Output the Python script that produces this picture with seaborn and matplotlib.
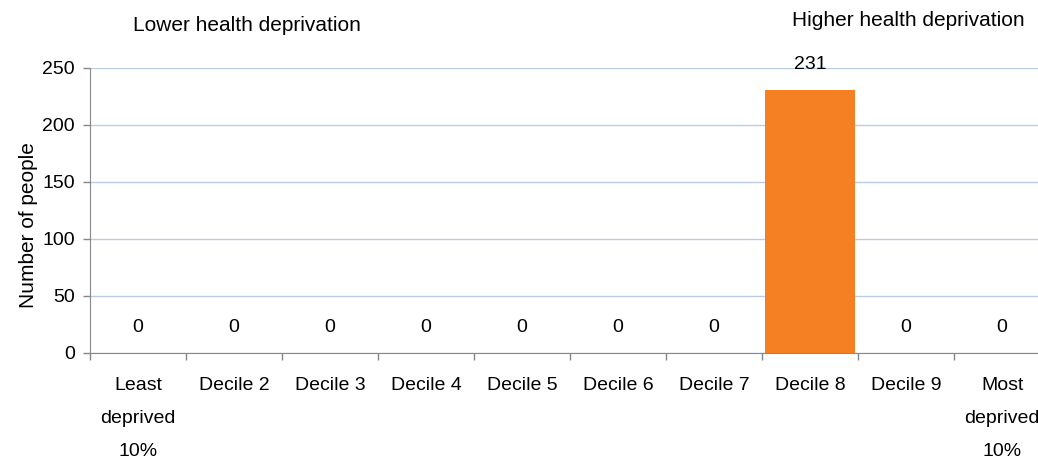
import numpy as np
import pandas as pd
import seaborn as sns
import matplotlib.pyplot as plt

categories = ["Least\ndeprived\n10%", "Decile 2", "Decile 3", "Decile 4", "Decile 5",
              "Decile 6", "Decile 7", "Decile 8", "Decile 9", "Most\ndeprived\n10%"]
people = [0, 0, 0, 0, 0, 0, 0, 231, 0, 0]

df = pd.DataFrame({"decile": categories, "people": people})

sns.set_style("white")
plt.rcParams['font.family'] = ['Liberation Sans', 'DejaVu Sans']
plt.rcParams['text.color'] = 'black'
plt.rcParams['xtick.color'] = '#888888'
plt.rcParams['ytick.color'] = '#888888'
plt.rcParams['xtick.labelcolor'] = 'black'
plt.rcParams['ytick.labelcolor'] = 'black'
plt.rcParams['axes.labelcolor'] = 'black'

fig = plt.figure(figsize=(10.38, 4.59), dpi=100)
ax = fig.add_axes([0.0867, 0.231, 0.925, 0.621])

sns.barplot(data=df, x="decile", y="people", color="#F58023", width=0.94,
            saturation=1, linewidth=0, ax=ax, zorder=3)

ax.set_ylim(0, 250)
ax.set_yticks([0, 50, 100, 150, 200, 250])
ax.grid(axis="y", color="#B9CDE5", linewidth=1, zorder=0)
ax.set_axisbelow(True)
ax.set_xlim(-0.5, 9.5)

# ticks between bars, labels at bar centres
ax.set_xticks(np.arange(-0.5, 10, 1))
ax.set_xticklabels([])
ax.set_xticks(range(len(categories)), minor=True)
ax.set_xticklabels(categories, minor=True, fontsize=14, linespacing=2.25, va="top")
ax.tick_params(axis="x", which="major", bottom=True, length=5, width=1, direction="out")
ax.tick_params(axis="x", which="minor", bottom=True, length=0, pad=17)
ax.tick_params(axis="y", left=True, length=5, width=1, labelsize=14, pad=6)

for s in ["top", "right"]:
    ax.spines[s].set_visible(False)
for s in ["left", "bottom"]:
    ax.spines[s].set_color("#888888")

ax.set_xlabel("")
ax.set_ylabel("Number of people", fontsize=15)
ax.yaxis.set_label_coords(-0.054, 0.45)

for i, v in enumerate(people):
    ax.annotate(str(v), (i, v), xytext=(0, 18), textcoords="offset points",
                ha="center", va="center", fontsize=14)

fig.text(0.128, 0.945, "Lower health deprivation", fontsize=15, va="center")
fig.text(0.763, 0.955, "Higher health deprivation", fontsize=15, va="center")

fig.savefig("out.png", dpi=100)
